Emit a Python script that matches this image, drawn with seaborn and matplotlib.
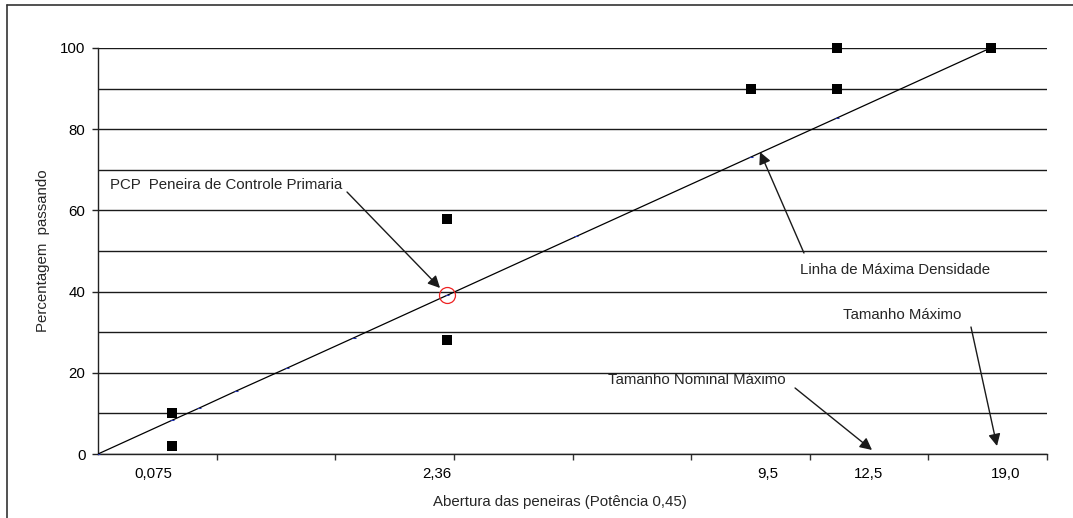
import numpy as np
import pandas as pd
import matplotlib
matplotlib.use("Agg")
import matplotlib.pyplot as plt
from matplotlib.lines import Line2D
from matplotlib.ticker import FixedLocator, MultipleLocator, NullFormatter
import seaborn as sns

# Sieve openings (mm) and percentage passing for the measured gradation limits
sieve_points = [0.075, 0.075, 2.36, 2.36, 9.5, 12.5, 12.5, 19.0]
passing_points = [10, 2, 58, 28, 90, 100, 90, 100]

# Maximum density line at each sieve opening
line_sieves = [0.0, 0.075, 0.15, 0.3, 0.6, 1.18, 2.36, 4.75, 9.5, 12.5, 19.0]
line_passing = [0.0, 8.3, 11.3, 15.5, 21.1, 28.6, 39.1, 53.6, 73.2, 82.8, 100.0]

# Primary control sieve point
pcp_sieve = 2.36
pcp_passing = 39.1

# Sieve labels shown under the axis
sieve_labels = ["0,075", "2,36", "9,5", "12,5", "19,0"]
sieve_label_values = [0.075, 2.36, 9.5, 12.5, 19.0]

POWER = 0.45

sns.set_theme(style="white")
plt.rcParams["font.family"] = ["Liberation Sans", "DejaVu Sans"]
FS = 10.8

fig = plt.figure(figsize=(10.73, 5.18), dpi=100)
ax = fig.add_axes([98 / 1073, 64 / 518, 949 / 1073, 406 / 518])

pts = pd.DataFrame({"abertura": sieve_points, "passando": passing_points})
line = pd.DataFrame({"abertura": line_sieves, "passando": line_passing})

sns.lineplot(data=line, x="abertura", y="passando", ax=ax, color="black",
             lw=0.9, sort=False, marker="_", markersize=3,
             markeredgecolor="#2233aa", markerfacecolor="#2233aa", zorder=3)
sns.scatterplot(data=pts, x="abertura", y="passando", ax=ax, marker="s",
                s=55, color="black", edgecolor="black", linewidth=0, zorder=4,
                clip_on=False)
ax.plot([pcp_sieve], [pcp_passing], marker="o", markersize=11.5,
        markerfacecolor="none", markeredgecolor="#ee2222", mew=0.9,
        linestyle="none", zorder=5)

# Power 0.45 abscissa
fwd = lambda v: np.power(np.clip(v, 0, None), POWER)
inv = lambda v: np.power(np.clip(v, 0, None), 1 / POWER)
ax.set_xscale("function", functions=(fwd, inv))
ax.set_xlim(0, inv(4.0))
ax.set_ylim(0, 100)

# Unlabelled ticks every 0.5 in transformed units
ax.xaxis.set_major_locator(FixedLocator(inv(np.arange(0.5, 4.01, 0.5))))
ax.xaxis.set_major_formatter(NullFormatter())
ax.xaxis.set_minor_locator(FixedLocator([]))
ax.tick_params(axis="x", which="major", direction="out", length=4,
               width=1, color="#333333", bottom=True)

ax.yaxis.set_major_locator(MultipleLocator(20))
ax.yaxis.set_minor_locator(MultipleLocator(10))
ax.tick_params(axis="y", which="major", direction="out", length=4, width=1,
               color="#222222", left=True, labelsize=FS, pad=5,
               labelcolor="black")
ax.tick_params(axis="y", which="minor", length=0)
ax.grid(True, axis="y", which="both", color="#1a1a1a", lw=1.0)
ax.set_axisbelow(True)

for side in ["top", "right"]:
    ax.spines[side].set_visible(False)
ax.spines["left"].set_color("#222222")
ax.spines["bottom"].set_color("#222222")
ax.spines["left"].set_linewidth(1.0)
ax.spines["bottom"].set_linewidth(1.0)

ax.set_xlabel("")
ax.set_ylabel("")

# Sieve labels, placed just under the axis
label_offsets_px = [-19, -10, 16, 31, 15]
for lab, val, off in zip(sieve_labels, sieve_label_values, label_offsets_px):
    ax.annotate(lab, xy=(val, 0), xycoords="data",
                xytext=(off * 0.72, -14.4), textcoords="offset points",
                ha="center", va="center", fontsize=FS, color="black",
                annotation_clip=False)

ax.text(0.4868, -0.118, "Abertura das peneiras (Potência 0,45)",
        transform=ax.transAxes, ha="center", va="center", fontsize=FS)
ax.text(-0.058, 0.5, "Percentagem  passando", transform=ax.transAxes,
        rotation=90, ha="center", va="center", fontsize=FS)

arrow = dict(arrowstyle="-|>", color="#1a1a1a", lw=1.0, mutation_scale=18,
             shrinkA=0, shrinkB=0)

ax.text(0.01265, 0.6626, "PCP  Peneira de Controle Primaria",
        transform=ax.transAxes, ha="left", va="center", fontsize=FS)
ax.annotate("", xy=(0.3604, 0.4089), xycoords="axes fraction",
            xytext=(0.2624, 0.6453), textcoords="axes fraction",
            arrowprops=arrow)

ax.text(0.7397, 0.4532, "Linha de Máxima Densidade",
        transform=ax.transAxes, ha="left", va="center", fontsize=FS)
ax.annotate("", xy=(0.6976, 0.7438), xycoords="axes fraction",
            xytext=(0.7439, 0.4951), textcoords="axes fraction",
            arrowprops=arrow)

ax.text(0.785, 0.3424, "Tamanho Máximo",
        transform=ax.transAxes, ha="left", va="center", fontsize=FS)
ax.annotate("", xy=(0.9473, 0.0197), xycoords="axes fraction",
            xytext=(0.9199, 0.3128), textcoords="axes fraction",
            arrowprops=arrow)

ax.text(0.5374, 0.1823, "Tamanho Nominal Máximo",
        transform=ax.transAxes, ha="left", va="center", fontsize=FS)
ax.annotate("", xy=(0.8156, 0.0099), xycoords="axes fraction",
            xytext=(0.7345, 0.1626), textcoords="axes fraction",
            arrowprops=arrow)

# Outer chart frame (left and top edges)
fx0, fy0 = 7 / 1073, 1 - 5 / 518
fig.add_artist(Line2D([fx0, fx0], [0, fy0], transform=fig.transFigure,
                      color="#333333", lw=1.2))
fig.add_artist(Line2D([fx0, 1], [fy0, fy0], transform=fig.transFigure,
                      color="#333333", lw=1.2))

fig.savefig("out.png", dpi=100, facecolor="white")
